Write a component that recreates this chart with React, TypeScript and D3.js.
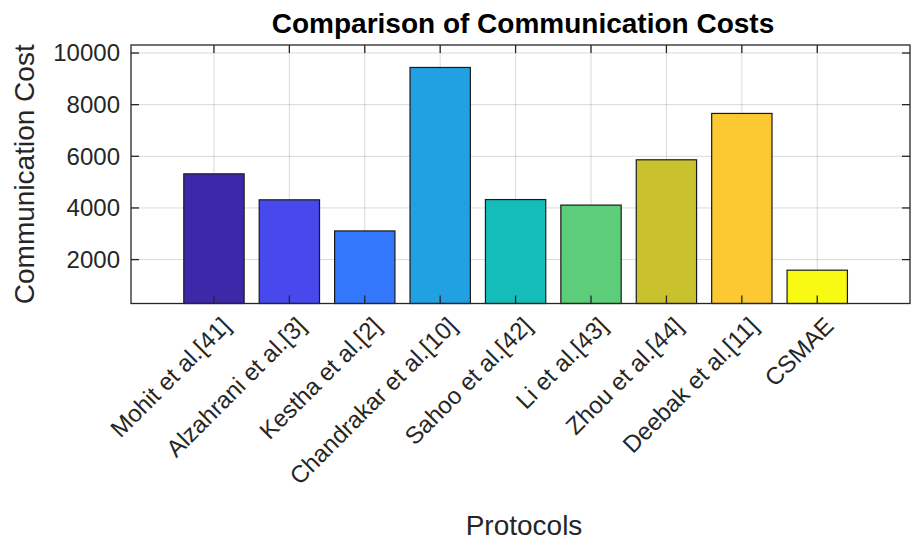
import React from 'react';
import * as d3 from 'd3';

const categories = [
  'Mohit et al.[41]',
  'Alzahrani et al.[3]',
  'Kestha et al.[2]',
  'Chandrakar et al.[10]',
  'Sahoo et al.[42]',
  'Li et al.[43]',
  'Zhou et al.[44]',
  'Deebak et al.[11]',
  'CSMAE',
];
const costs = [5320, 4315, 3110, 9440, 4325, 4110, 5865, 7660, 1590];
const barColors = ['#3d28a9', '#4749ec', '#3277fc', '#21a1e2', '#14bdb9', '#5ccd78', '#c9c12e', '#fdc932', '#f8fa13'];
const yTicks = [2000, 4000, 6000, 8000, 10000];
const titleText = 'Comparison of Communication Costs';
const xLabel = 'Protocols';
const yLabel = 'Communication Cost';

const W = 911;
const H = 541;
const L = 131, R = 910, T = 45, B = 303.5;
const FONT = '"Liberation Sans", Arial, Helvetica, sans-serif';

export default function App() {
  const idx = categories.map((_, i) => i + 1);
  const x = d3.scaleLinear().domain([-0.1, 10.23]).range([L, R]);
  const y = d3.scaleLinear().domain([300, 10310]).range([B, T]);
  const step = x(2) - x(1);
  const bw = step * 0.8;
  const tk = 8;
  return (
    <svg width={W} height={H} style={{ position: 'absolute', left: 0, top: 0, background: '#fff' }} fontFamily={FONT}>
      <rect x={0} y={0} width={W} height={H} fill="#fff" />
      {idx.map((i) => (
        <line key={'gx' + i} x1={x(i)} x2={x(i)} y1={T} y2={B} stroke="#000" strokeOpacity={0.15} strokeWidth={1} />
      ))}
      {yTicks.map((v) => (
        <line key={'gy' + v} x1={L} x2={R} y1={y(v)} y2={y(v)} stroke="#000" strokeOpacity={0.15} strokeWidth={1} />
      ))}
      {costs.map((v, i) => (
        <rect
          key={'b' + i}
          x={x(i + 1) - bw / 2}
          y={y(v)}
          width={bw}
          height={B - y(v)}
          fill={barColors[i]}
          stroke="#1a1a1a"
          strokeWidth={1.2}
        />
      ))}
      <rect x={L} y={T} width={R - L} height={B - T} fill="none" stroke="#262626" strokeWidth={1.3} />
      {idx.map((i) => (
        <g key={'xt' + i}>
          <line x1={x(i)} x2={x(i)} y1={B} y2={B - tk} stroke="#262626" strokeWidth={1.3} />
          <line x1={x(i)} x2={x(i)} y1={T} y2={T + tk} stroke="#262626" strokeWidth={1.3} />
        </g>
      ))}
      {yTicks.map((v) => (
        <g key={'yt' + v}>
          <line x1={L} x2={L + tk} y1={y(v)} y2={y(v)} stroke="#262626" strokeWidth={1.3} />
          <line x1={R} x2={R - tk} y1={y(v)} y2={y(v)} stroke="#262626" strokeWidth={1.3} />
          <text x={L - 11} y={y(v)} dy="0.35em" textAnchor="end" fontSize={24} fill="#262626">
            {v}
          </text>
        </g>
      ))}
      {categories.map((c, i) => (
        <text
          key={'xl' + i}
          transform={`translate(${x(i + 1) + 12},${B + 18}) rotate(-45)`}
          textAnchor="end"
          dy="0.35em"
          fontSize={24}
          fill="#262626"
        >
          {c}
        </text>
      ))}
      <text x={523} y={33} textAnchor="middle" fontSize={28} fontWeight="bold" fill="#000">
        {titleText}
      </text>
      <text x={524} y={535} textAnchor="middle" fontSize={28} fill="#262626">
        {xLabel}
      </text>
      <text transform={`translate(34,${(T + B) / 2}) rotate(-90)`} textAnchor="middle" fontSize={28} fill="#262626">
        {yLabel}
      </text>
    </svg>
  );
}
